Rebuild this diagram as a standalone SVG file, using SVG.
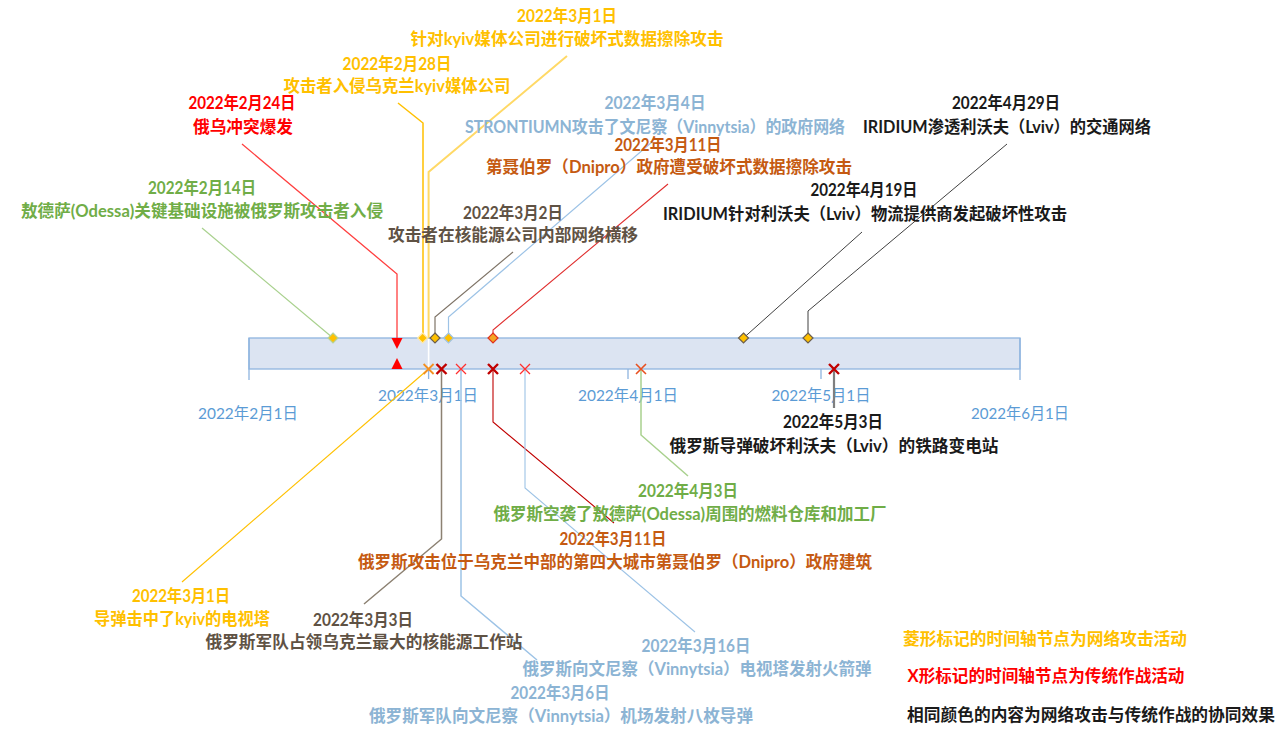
<svg xmlns="http://www.w3.org/2000/svg" width="1288" height="742" viewBox="0 0 1288 742">
<style>
text{font-family:Lato,"Noto Sans CJK SC",sans-serif;font-size:16.5px;font-weight:bold;text-anchor:middle}
.ax{font-weight:normal;font-size:15.5px;fill:#5b9bd5}
.y{fill:#ffc000}.r{fill:#ff0000}.g{fill:#70ad47}.b{fill:#8cb4d4}.o{fill:#c55a11}.d{fill:#5f5244}.k{fill:#1a1a1a}
.c{fill:none}
.dia{fill:#ffc000;stroke-width:1.2}
.x{fill:none;stroke-linecap:butt}
</style>
<defs>
<path id="dm" d="M0,-5 L5,0 L0,5 L-5,0 Z"/>
<path id="xm" d="M-5,-5 L5,5 M5,-5 L-5,5"/>
</defs>
<rect width="1288" height="742" fill="#ffffff"/>

<g id="axis">
<rect x="249" y="338" width="771" height="31" fill="#dce4f2" stroke="#8fb4df" stroke-width="1.3"/>
<path d="M249,338 V380 M1020,338 V380 M428.6,369 V379 M628,369 V379 M821,369 V379" stroke="#8fb4df" stroke-width="1.3" fill="none"/>
<text class="ax" x="248" y="419" textLength="100" lengthAdjust="spacingAndGlyphs">2022年2月1日</text>
<text class="ax" x="428" y="401" textLength="100" lengthAdjust="spacingAndGlyphs">2022年3月1日</text>
<text class="ax" x="628" y="401" textLength="100" lengthAdjust="spacingAndGlyphs">2022年4月1日</text>
<text class="ax" x="821" y="401" textLength="99" lengthAdjust="spacingAndGlyphs">2022年5月1日</text>
<text class="ax" x="1020" y="419" textLength="98" lengthAdjust="spacingAndGlyphs">2022年6月1日</text>
</g>

<g id="connectors" class="c">
<path d="M202,228 L333,338" stroke="#a9d18e" stroke-width="1.2"/>
<path d="M242,144 L397,274 V339" stroke="#ff4040" stroke-width="1.3"/>
<path d="M398,103 L423,123 V338" stroke="#ffc000" stroke-width="1.5"/>
<path d="M567,56 L428.6,172 V338" stroke="#ffd966" stroke-width="2"/>
<path d="M428.6,339 V368" stroke="#ffffff" stroke-width="1.6"/>
<path d="M513,252 L435,317 V338" stroke="#7f7467" stroke-width="1.2"/>
<path d="M652,142 L448.5,317 V338" stroke="#9dc3e6" stroke-width="1.2"/>
<path d="M668,184 L493,330 V338" stroke="#e03030" stroke-width="1.1"/>
<path d="M862,232 L743.5,338" stroke="#404040" stroke-width="1"/>
<path d="M1007,144 L808,311 V338" stroke="#404040" stroke-width="1"/>
<path d="M428.6,369 L182,582" stroke="#ffc000" stroke-width="1.1"/>
<path d="M441.5,369 V539 L364,604" stroke="#8c8172" stroke-width="1.5"/>
<path d="M461,369 V596 L537,660" stroke="#9dc3e6" stroke-width="1.5"/>
<path d="M493,369 V422 L614,523" stroke="#c00000" stroke-width="1.1"/>
<path d="M525,369 V488 L695,632" stroke="#9dc3e6" stroke-width="1.1"/>
<path d="M641,369 V435 L688,476" stroke="#a9d18e" stroke-width="1.5"/>
<path d="M834,369 V408" stroke="#7f7f7f" stroke-width="2.2"/>
</g>

<g id="markers">
<use href="#dm" x="333" y="338" class="dia" stroke="#b5d39a"/>
<use href="#dm" x="422.6" y="338" class="dia" stroke="#ffe9a8"/>
<use href="#dm" x="435" y="338" class="dia" stroke="#6b5e4e"/>
<use href="#dm" x="448.5" y="338" class="dia" stroke="#9dc3e6"/>
<use href="#dm" x="493" y="338" style="fill:#f5a623;stroke:#e03020;stroke-width:1.2"/>
<use href="#dm" x="743.5" y="338" class="dia" stroke="#6b5e4e"/>
<use href="#dm" x="808" y="338" class="dia" stroke="#6b5e4e"/>
<polygon points="391.5,338 402.5,338 397,349" fill="#ff0000"/>
<polygon points="391.5,369 402.5,369 397,358" fill="#ff0000"/>
<use href="#xm" x="428.6" y="369" class="x" stroke="#f39020" stroke-width="1.8"/>
<use href="#xm" x="441.5" y="369" class="x" stroke="#c00000" stroke-width="2.4"/>
<use href="#xm" x="461" y="369" class="x" stroke="#ff3030" stroke-width="1.3"/>
<use href="#xm" x="493" y="369" class="x" stroke="#c00000" stroke-width="2.4"/>
<use href="#xm" x="525" y="369" class="x" stroke="#ff3030" stroke-width="1.3"/>
<use href="#xm" x="641" y="369" class="x" stroke="#e85020" stroke-width="1.6"/>
<use href="#xm" x="834" y="369" class="x" stroke="#c00000" stroke-width="2.4"/>
</g>

<g id="n-0214">
<text class="g" x="202" y="194" textLength="108" lengthAdjust="spacingAndGlyphs">2022年2月14日</text>
<text class="g" x="202" y="217" textLength="362" lengthAdjust="spacingAndGlyphs">敖德萨(Odessa)关键基础设施被俄罗斯攻击者入侵</text>
</g>
<g id="n-0224">
<text class="r" x="242" y="109" textLength="107" lengthAdjust="spacingAndGlyphs">2022年2月24日</text>
<text class="r" x="243" y="133" textLength="100" lengthAdjust="spacingAndGlyphs">俄乌冲突爆发</text>
</g>
<g id="n-0228">
<text class="y" x="397" y="70" textLength="109" lengthAdjust="spacingAndGlyphs">2022年2月28日</text>
<text class="y" x="397" y="92" textLength="227" lengthAdjust="spacingAndGlyphs">攻击者入侵乌克兰kyiv媒体公司</text>
</g>
<g id="n-0301-cyber">
<text class="y" x="567" y="22" textLength="100" lengthAdjust="spacingAndGlyphs">2022年3月1日</text>
<text class="y" x="567" y="45" textLength="313" lengthAdjust="spacingAndGlyphs">针对kyiv媒体公司进行破坏式数据擦除攻击</text>
</g>
<g id="n-0302">
<text class="d" x="513" y="219" textLength="100" lengthAdjust="spacingAndGlyphs">2022年3月2日</text>
<text class="d" x="513" y="241" textLength="250" lengthAdjust="spacingAndGlyphs">攻击者在核能源公司内部网络横移</text>
</g>
<g id="n-0304">
<text class="b" x="655" y="109" textLength="101" lengthAdjust="spacingAndGlyphs">2022年3月4日</text>
<text class="b" x="655" y="133" textLength="380" lengthAdjust="spacingAndGlyphs">STRONTIUMN攻击了文尼察（Vinnytsia）的政府网络</text>
</g>
<g id="n-0311-cyber">
<text class="o" x="668" y="151" textLength="107" lengthAdjust="spacingAndGlyphs">2022年3月11日</text>
<text class="o" x="669" y="173" textLength="366" lengthAdjust="spacingAndGlyphs">第聂伯罗（Dnipro）政府遭受破坏式数据擦除攻击</text>
</g>
<g id="n-0419">
<text class="k" x="864" y="196" textLength="107" lengthAdjust="spacingAndGlyphs">2022年4月19日</text>
<text class="k" x="865" y="220" textLength="404" lengthAdjust="spacingAndGlyphs">IRIDIUM针对利沃夫（Lviv）物流提供商发起破坏性攻击</text>
</g>
<g id="n-0429">
<text class="k" x="1006" y="109" textLength="108" lengthAdjust="spacingAndGlyphs">2022年4月29日</text>
<text class="k" x="1007" y="133" textLength="288" lengthAdjust="spacingAndGlyphs">IRIDIUM渗透利沃夫（Lviv）的交通网络</text>
</g>

<g id="n-0301-war">
<text class="y" x="181" y="602" textLength="98" lengthAdjust="spacingAndGlyphs">2022年3月1日</text>
<text class="y" x="182" y="625" textLength="176" lengthAdjust="spacingAndGlyphs">导弹击中了kyiv的电视塔</text>
</g>
<g id="n-0303">
<text class="d" x="363" y="626" textLength="100" lengthAdjust="spacingAndGlyphs">2022年3月3日</text>
<text class="d" x="364" y="648" textLength="317" lengthAdjust="spacingAndGlyphs">俄罗斯军队占领乌克兰最大的核能源工作站</text>
</g>
<g id="n-0306">
<text class="b" x="560" y="699" textLength="99" lengthAdjust="spacingAndGlyphs">2022年3月6日</text>
<text class="b" x="561" y="722" textLength="384" lengthAdjust="spacingAndGlyphs">俄罗斯军队向文尼察（Vinnytsia）机场发射八枚导弹</text>
</g>
<g id="n-0311-war">
<text class="o" x="613" y="545" textLength="107" lengthAdjust="spacingAndGlyphs">2022年3月11日</text>
<text class="o" x="615" y="568" textLength="514" lengthAdjust="spacingAndGlyphs">俄罗斯攻击位于乌克兰中部的第四大城市第聂伯罗（Dnipro）政府建筑</text>
</g>
<g id="n-0316">
<text class="b" x="696" y="652" textLength="109" lengthAdjust="spacingAndGlyphs">2022年3月16日</text>
<text class="b" x="697" y="675" textLength="349" lengthAdjust="spacingAndGlyphs">俄罗斯向文尼察（Vinnytsia）电视塔发射火箭弹</text>
</g>
<g id="n-0403">
<text class="g" x="688" y="497" textLength="100" lengthAdjust="spacingAndGlyphs">2022年4月3日</text>
<text class="g" x="690" y="520" textLength="393" lengthAdjust="spacingAndGlyphs">俄罗斯空袭了敖德萨(Odessa)周围的燃料仓库和加工厂</text>
</g>
<g id="n-0503">
<text class="k" x="833" y="428" textLength="100" lengthAdjust="spacingAndGlyphs">2022年5月3日</text>
<text class="k" x="834" y="452" textLength="329" lengthAdjust="spacingAndGlyphs">俄罗斯导弹破坏利沃夫（Lviv）的铁路变电站</text>
</g>

<g id="legend">
<text class="y" x="1045" y="645" textLength="284" lengthAdjust="spacingAndGlyphs">菱形标记的时间轴节点为网络攻击活动</text>
<text class="r" x="1046" y="682" textLength="277" lengthAdjust="spacingAndGlyphs">X形标记的时间轴节点为传统作战活动</text>
<text class="k" x="1091" y="721" textLength="368" lengthAdjust="spacingAndGlyphs">相同颜色的内容为网络攻击与传统作战的协同效果</text>
</g>
</svg>
